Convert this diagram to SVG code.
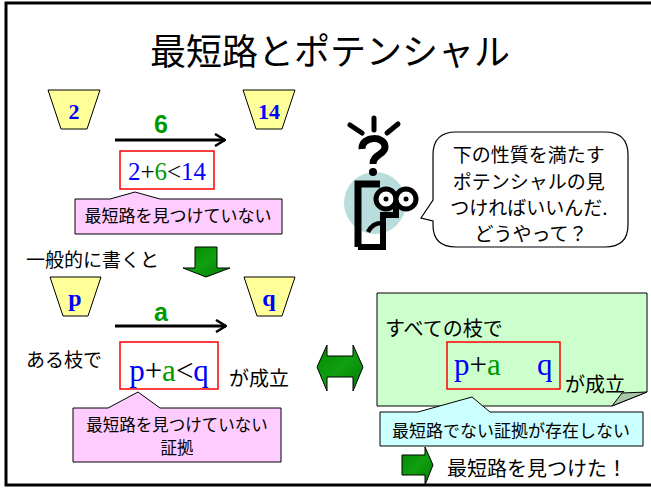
<svg xmlns="http://www.w3.org/2000/svg" width="651" height="488" viewBox="0 0 651 488">
  <defs>
    <style>
      .jp { font-family: "Noto Sans CJK JP", "Noto Sans", sans-serif; fill: #000; }
      .num { font-family: "Liberation Serif", serif; font-weight: bold; fill: #0000FF; }
      .edge { font-family: "Liberation Sans", sans-serif; font-weight: bold; fill: #009900; }
      .formula { font-family: "Liberation Serif", serif; fill: #000; }
      .blue { fill: #0000FF; }
      .green { fill: #009900; }
      .pot { fill: #FFFF99; stroke: #000; stroke-width: 1; }
      .redbox { fill: #fff; stroke: #FF0000; stroke-width: 1.5; }
      .callout { stroke: #000; stroke-width: 1; }
      .bigarrow { fill: url(#greenGrad); stroke: #000; stroke-width: 1; }
      .conn { stroke: #000; stroke-width: 3; fill: none; }
    </style>
    <linearGradient id="greenGrad" x1="0" y1="0" x2="1" y2="1">
      <stop offset="0" stop-color="#008800"/>
      <stop offset="0.5" stop-color="#11A011"/>
      <stop offset="1" stop-color="#007A00"/>
    </linearGradient>
    <marker id="openHead" viewBox="0 0 12 14" refX="11" refY="7" markerWidth="12" markerHeight="14" markerUnits="userSpaceOnUse" orient="auto">
      <path d="M1,1 L11,7 L1,13" fill="none" stroke="#000" stroke-width="2.5"/>
    </marker>
  </defs>

  <rect x="0" y="0" width="651" height="488" fill="#fff"/>
  <!-- slide frame -->
  <rect id="frame" x="6" y="3" width="650" height="482" fill="none" stroke="#000" stroke-width="3"/>

  <!-- title -->
  <text id="title" class="jp" x="330" y="65" font-size="36" text-anchor="middle">最短路とポテンシャル</text>

  <!-- concrete example: potentials 2 and 14 -->
  <g id="node-2">
    <polygon class="pot" points="48,90 100,90 87,129 61,129"/>
    <text class="num" x="74" y="119" font-size="22" text-anchor="middle">2</text>
  </g>
  <g id="node-14">
    <polygon class="pot" points="243,90 295,90 282,129 256,129"/>
    <text class="num" x="269" y="119" font-size="22" text-anchor="middle">14</text>
  </g>

  <!-- general case: potentials p and q -->
  <g id="node-p">
    <polygon class="pot" points="50,277 101,277 88,316 63,316"/>
    <text class="num" x="75" y="306" font-size="24" text-anchor="middle">p</text>
  </g>
  <g id="node-q">
    <polygon class="pot" points="244,277 295,277 282,316 257,316"/>
    <text class="num" x="269" y="306" font-size="24" text-anchor="middle">q</text>
  </g>

  <!-- edges -->
  <g id="connectors">
    <line class="conn" x1="115" y1="140" x2="225" y2="140" marker-end="url(#openHead)"/>
    <line class="conn" x1="115" y1="326" x2="226" y2="326" marker-end="url(#openHead)"/>
  </g>
  <g id="edge-labels">
    <text class="edge" x="161" y="133" font-size="25" text-anchor="middle">6</text>
    <text class="edge" x="161" y="321" font-size="25" text-anchor="middle">a</text>
  </g>

  <!-- inequality 2+6<14 -->
  <g id="ineq-1">
    <rect class="redbox" x="120" y="151" width="94" height="38"/>
    <text class="formula" x="167" y="180" font-size="25" text-anchor="middle"><tspan class="blue">2</tspan>+<tspan class="green">6</tspan>&lt;<tspan class="blue">14</tspan></text>
  </g>
  <g id="callout-1">
    <path class="callout" fill="#FFCCFF" d="M75,199 H110 L135,192 L160,199 H282 V234 H75 Z"/>
    <text class="jp" x="178" y="222" font-size="17" text-anchor="middle">最短路を見つけていない</text>
  </g>

  <!-- "in general" -->
  <text id="general" class="jp" x="26" y="267" font-size="19">一般的に書くと</text>
  <g id="down-arrow">
    <path class="bigarrow" d="M195,247 H217 V268 H230 L206,277 L183,268 H195 Z"/>
  </g>

  <!-- some edge -->
  <text id="some-edge" class="jp" x="26" y="367" font-size="19">ある枝で</text>
  <g id="ineq-2">
    <rect class="redbox" x="120" y="342" width="98" height="47"/>
    <text class="formula" x="169" y="381" font-size="31" text-anchor="middle"><tspan class="blue">p</tspan>+<tspan class="green">a</tspan>&lt;<tspan class="blue">q</tspan></text>
  </g>
  <text id="holds-1" class="jp" x="229" y="386" font-size="20">が成立</text>
  <g id="callout-2">
    <path class="callout" fill="#FFCCFF" d="M73,408 H108 L138,392 L160,408 H281 V462 H73 Z"/>
    <text class="jp" x="177" y="431" font-size="16.5" text-anchor="middle">最短路を見つけていない</text>
    <text class="jp" x="177" y="454" font-size="16.5" text-anchor="middle">証拠</text>
  </g>

  <!-- equivalence arrow -->
  <g id="double-arrow">
    <path class="bigarrow" d="M317,367 L327,345 V356 H353 V345 L363,367 L353,391 V377 H327 V391 Z"/>
  </g>

  <!-- all edges note -->
  <g id="note-all">
    <path fill="#CCFFCC" stroke="#000" stroke-width="1" d="M377,293 H647 V392 L612,406 H377 Z"/>
    <path fill="#A8C8A8" stroke="#000" stroke-width="1" d="M612,406 L622,393 L647,392 Z"/>
    <text class="jp" x="385" y="336" font-size="20">すべての枝で</text>
    <rect class="redbox" x="447" y="342" width="113" height="47" style="fill:#CCFFCC"/>
    <text class="formula" x="454" y="375" font-size="31"><tspan class="blue">p</tspan>+<tspan class="green">a</tspan></text>
    <text class="formula blue" x="537" y="375" font-size="31">q</text>
    <text class="jp" x="565" y="392" font-size="20">が成立</text>
  </g>
  <g id="callout-3">
    <path class="callout" fill="#CCFFFF" d="M380,412 H418 L472,397 L490,412 H643 V446 H380 Z"/>
    <text class="jp" x="511" y="437" font-size="17" text-anchor="middle">最短路でない証拠が存在しない</text>
  </g>

  <!-- conclusion -->
  <g id="right-arrow">
    <path class="bigarrow" d="M402,455 H425 V447 L433,465 L425,485 V475 H402 Z"/>
  </g>
  <text id="found" class="jp" x="447" y="476" font-size="20">最短路を見つけた！</text>

  <!-- puzzled figure -->
  <g id="figure">
    <circle cx="375" cy="203" r="31" fill="#B9DCDC"/>
    <g stroke="#000" stroke-linecap="round" fill="none">
      <line x1="350" y1="125" x2="362" y2="133" stroke-width="5"/>
      <line x1="374" y1="118" x2="374" y2="130" stroke-width="5"/>
      <line x1="398" y1="124" x2="387" y2="133" stroke-width="5"/>
      <path d="M362,149 C361,136 385,135 385,147 C385,155 373,154 373,164" stroke-width="7" stroke-linecap="butt"/>
    </g>
    <circle cx="373" cy="172" r="4" fill="#000"/>
    <path d="M358,247 V184 H380" fill="none" stroke="#000" stroke-width="7"/>
    <path d="M396,207 V215 H383 V247 H358" fill="none" stroke="#000" stroke-width="6"/>
    <path d="M368,232 Q373,222 383,223" fill="none" stroke="#000" stroke-width="4.5"/>
    <circle cx="386" cy="199" r="10" fill="#fff" stroke="#000" stroke-width="5"/>
    <circle cx="406" cy="199" r="10" fill="#fff" stroke="#000" stroke-width="5"/>
    <circle cx="386" cy="199" r="2.5" fill="#000"/>
    <circle cx="406" cy="199" r="2.5" fill="#000"/>
  </g>

  <!-- speech bubble -->
  <g id="bubble">
    <path fill="#fff" stroke="#000" stroke-width="1.2" d="M456,132 H605 Q628,132 628,155 V225 Q628,247 605,247 H456 Q433,247 433,225 V221 L421,218 L433,200 V155 Q433,132 456,132 Z"/>
    <text class="jp" font-size="19" text-anchor="middle">
      <tspan x="531" y="162">下の性質を満たす</tspan>
      <tspan x="531" y="189">ポテンシャルの見</tspan>
      <tspan x="531" y="215">つければいいんだ.</tspan>
      <tspan x="531" y="241">どうやって？</tspan>
    </text>
  </g>
</svg>
